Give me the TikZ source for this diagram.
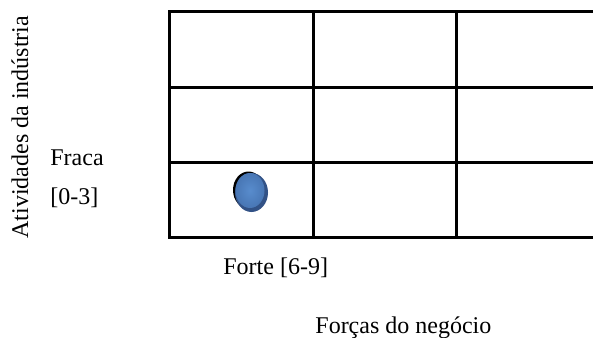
\documentclass[tikz,border=0pt]{standalone}
\usepackage{fontspec}
\setmainfont{Liberation Serif}
\definecolor{dotdark}{RGB}{50,82,134}
\definecolor{dotlight}{RGB}{72,118,180}
\definecolor{dotcenter}{RGB}{88,140,205}
\begin{document}
\begin{tikzpicture}[x=0.5pt,y=-0.5pt,
  gridline/.style={line width=1.5pt,line cap=rect},
  lbl/.style={inner sep=0pt,anchor=base west,font=\fontsize{12}{14}\selectfont}]
\useasboundingbox (0,0) rectangle (593,337);
\begin{scope}
\clip (0,0) rectangle (593,337);
% grid
\draw[gridline] (600,11) -- (169,11) -- (169,237) -- (600,237);
\draw[gridline] (169,87) -- (600,87);
\draw[gridline] (169,162) -- (600,162);
\draw[gridline] (313,11) -- (313,237);
\draw[gridline] (456,11) -- (456,237);
% dot
\fill[black] (248.5,190) ellipse [x radius=15.5, y radius=18.5];
\fill[dotdark] (251.5,192.5) ellipse [x radius=16.5, y radius=19.5];
\shade[inner color=dotcenter, outer color=dotlight] (250,190.5) ellipse [x radius=14.5, y radius=17.5];
% labels
\node[lbl,rotate=90] (ylab) at (28,239) {Atividades da indústria};
\node[lbl] (fraca) at (50,165) {Fraca};
\node[lbl] (fr) at (50,204) {[0-3]};
\node[lbl] (forte) at (223,274) {Forte [6-9]};
\node[lbl] (xlab) at (315,333) {Forças do negócio};
\end{scope}
\end{tikzpicture}
\end{document}
